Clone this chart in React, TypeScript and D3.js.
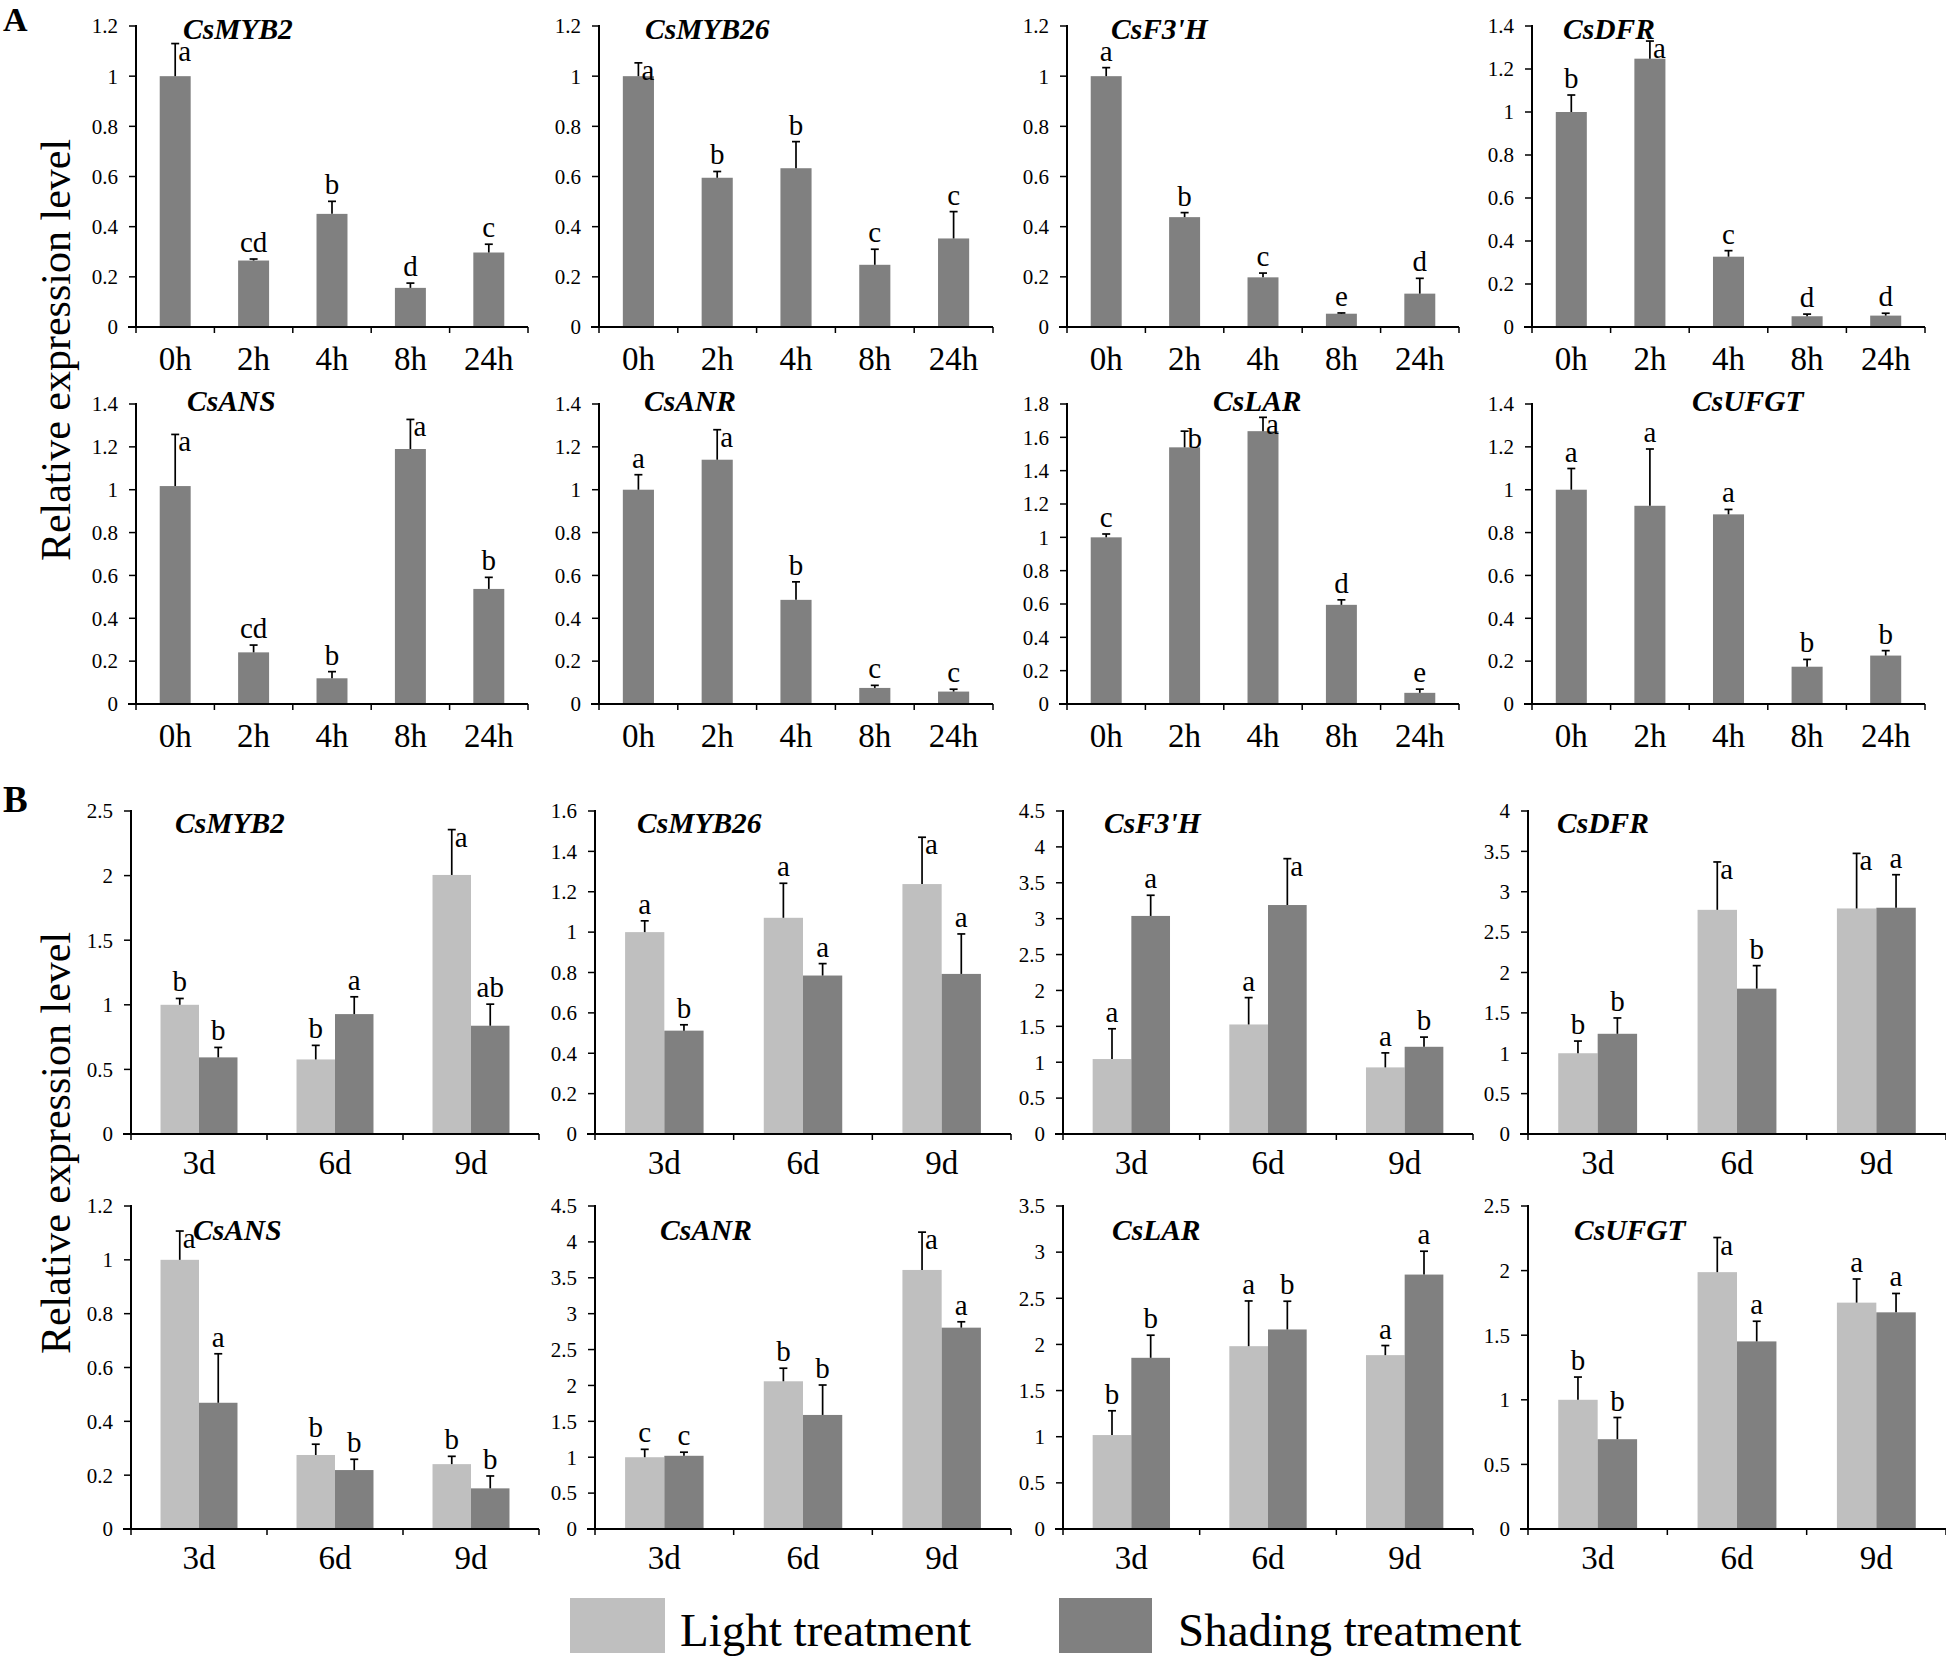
import React from "react";
import * as d3 from "d3";

// ---------- data ----------
const hoursA = ["0h", "2h", "4h", "8h", "24h"];
const daysB = ["3d", "6d", "9d"];
const genes = ["CsMYB2", "CsMYB26", "CsF3'H", "CsDFR", "CsANS", "CsANR", "CsLAR", "CsUFGT"];

// Panel A (time course, single series)
const yMaxA = [1.2, 1.2, 1.2, 1.4, 1.4, 1.4, 1.8, 1.4];
const yStepA = [0.2, 0.2, 0.2, 0.2, 0.2, 0.2, 0.2, 0.2];
const meanA = [
  [1.0, 0.265, 0.451, 0.156, 0.297],
  [1.0, 0.595, 0.633, 0.248, 0.353],
  [1.0, 0.438, 0.198, 0.053, 0.133],
  [1.0, 1.248, 0.327, 0.05, 0.053],
  [1.017, 0.241, 0.12, 1.19, 0.537],
  [1.0, 1.14, 0.486, 0.075, 0.058],
  [1.0, 1.54, 1.637, 0.595, 0.067],
  [1.0, 0.925, 0.885, 0.174, 0.226],
];
const errA = [
  [0.13, 0.006, 0.05, 0.019, 0.033],
  [0.053, 0.025, 0.106, 0.062, 0.107],
  [0.034, 0.018, 0.017, 0.003, 0.061],
  [0.079, 0.082, 0.028, 0.01, 0.011],
  [0.241, 0.034, 0.031, 0.138, 0.054],
  [0.07, 0.14, 0.084, 0.012, 0.011],
  [0.02, 0.097, 0.083, 0.03, 0.022],
  [0.099, 0.265, 0.023, 0.034, 0.023],
];
const lettersA = [
  ["a", "cd", "b", "d", "c"],
  ["a", "b", "b", "c", "c"],
  ["a", "b", "c", "e", "d"],
  ["b", "a", "c", "d", "d"],
  ["a", "cd", "b", "a", "b"],
  ["a", "a", "b", "c", "c"],
  ["c", "b", "a", "d", "e"],
  ["a", "a", "a", "b", "b"],
];
// letters printed beside (right of) their error bar instead of above it
const besideA = ["CsMYB2:0h", "CsMYB26:0h", "CsDFR:2h", "CsANS:0h", "CsANS:8h", "CsANR:2h", "CsLAR:2h", "CsLAR:4h"];

// Panel B (light vs shading)
const yMaxB = [2.5, 1.6, 4.5, 4, 1.2, 4.5, 3.5, 2.5];
const yStepB = [0.5, 0.2, 0.5, 0.5, 0.2, 0.5, 0.5, 0.5];
const lightMeanB = [
  [1.0, 0.577, 2.005],
  [1.0, 1.071, 1.238],
  [1.044, 1.526, 0.928],
  [1.0, 2.776, 2.793],
  [1.0, 0.275, 0.241],
  [1.0, 2.058, 3.609],
  [1.018, 1.981, 1.884],
  [1.0, 1.988, 1.752],
];
const lightErrB = [
  [0.049, 0.109, 0.351],
  [0.056, 0.171, 0.232],
  [0.422, 0.374, 0.202],
  [0.151, 0.593, 0.682],
  [0.107, 0.04, 0.029],
  [0.11, 0.182, 0.527],
  [0.263, 0.49, 0.104],
  [0.176, 0.268, 0.183],
];
const lightLettersB = [
  ["b", "b", "a"],
  ["a", "a", "a"],
  ["a", "a", "a"],
  ["b", "a", "a"],
  ["a", "b", "b"],
  ["c", "b", "a"],
  ["b", "a", "a"],
  ["b", "a", "a"],
];
const shadeMeanB = [
  [0.593, 0.928, 0.838],
  [0.512, 0.785, 0.793],
  [3.038, 3.19, 1.215],
  [1.241, 1.8, 2.802],
  [0.469, 0.219, 0.151],
  [1.02, 1.589, 2.805],
  [1.855, 2.162, 2.757],
  [0.695, 1.452, 1.677],
];
const shadeErrB = [
  [0.077, 0.134, 0.167],
  [0.029, 0.059, 0.198],
  [0.288, 0.646, 0.135],
  [0.196, 0.285, 0.409],
  [0.182, 0.04, 0.046],
  [0.05, 0.417, 0.082],
  [0.245, 0.306, 0.253],
  [0.168, 0.156, 0.146],
];
const shadeLettersB = [
  ["b", "a", "ab"],
  ["b", "a", "a"],
  ["a", "a", "b"],
  ["b", "b", "a"],
  ["a", "b", "b"],
  ["c", "b", "a"],
  ["b", "b", "a"],
  ["b", "a", "a"],
];
const besideB = [
  "CsMYB2:9d:light", "CsMYB26:9d:light", "CsF3'H:6d:shade", "CsDFR:6d:light",
  "CsDFR:9d:light", "CsANS:3d:light", "CsANR:9d:light", "CsUFGT:6d:light",
];
const seriesKeys = ["light", "shade"];
const legendLabels = ["Light treatment", "Shading treatment"];
const yTitle = "Relative expression level";

// ---------- styling / layout ----------
const FONT = '"Liberation Serif", "Times New Roman", Times, serif';
const LIGHT = "#bfbfbf";
const DARK = "#808080";

const colX = { A: [136, 599, 1067, 1532], B: [131, 595, 1063, 1528] };
const colW = { A: [392, 394, 392, 393], B: [408, 416, 410, 418] };
const rows = [
  { panel: "A", top: 26, zero: 327, titleY: 39, titleDx: [47, 46, 44, 31] },
  { panel: "A", top: 404, zero: 704, titleY: 411, titleDx: [51, 45, 146, 160] },
  { panel: "B", top: 811, zero: 1134, titleY: 833, titleDx: [44, 42, 41, 29] },
  { panel: "B", top: 1206, zero: 1529, titleY: 1240, titleDx: [62, 65, 49, 46] },
];

type Series = { key: string; color: string; values: number[]; errs: number[]; letters: string[] };

function Panel(props: {
  x0: number; w: number; top: number; zero: number; max: number; step: number;
  cats: string[]; series: Series[]; gene: string; titleX: number; titleY: number;
  beside: string[]; groupFrac: number; xLabelDy: number;
}) {
  const { x0, w, top, zero, max, step, cats, series, gene, titleX, titleY, beside, groupFrac, xLabelDy } = props;
  const y = d3.scaleLinear().domain([0, max]).range([zero, top]);
  const pad = 1 - groupFrac;
  const xb = d3.scaleBand<string>().domain(cats).range([x0, x0 + w]).paddingInner(pad).paddingOuter(pad / 2);
  const inner = d3.scaleBand<string>().domain(series.map((s) => s.key)).range([0, xb.bandwidth()]);
  const ticks = d3.range(0, max + step / 2, step).map((v) => +v.toFixed(2));
  const bounds = d3.range(cats.length + 1).map((i) => x0 + (i * w) / cats.length);
  const bars: any[] = [];
  const errs: any[] = [];
  const labels: any[] = [];
  series.forEach((s) => {
    cats.forEach((c, i) => {
      const bx = (xb(c) as number) + (inner(s.key) as number);
      const bw = inner.bandwidth();
      const cx = bx + bw / 2;
      const v = s.values[i];
      const topV = v + s.errs[i];
      bars.push(<rect key={`b${s.key}${c}`} x={bx} y={y(v)} width={bw} height={zero - y(v)} fill={s.color} />);
      errs.push(
        <g key={`e${s.key}${c}`} stroke="#000" strokeWidth={1.7}>
          <line x1={cx} x2={cx} y1={y(v)} y2={y(topV)} />
          <line x1={cx - 4} x2={cx + 4} y1={y(topV)} y2={y(topV)} />
        </g>
      );
      const id1 = `${gene}:${c}`;
      const id2 = `${gene}:${c}:${s.key}`;
      const isBeside = beside.includes(id1) || beside.includes(id2);
      labels.push(
        <text
          key={`l${s.key}${c}`}
          x={isBeside ? cx + 3 : cx}
          y={isBeside ? y(topV) + 17 : y(topV) - 7}
          textAnchor={isBeside ? "start" : "middle"}
          fontSize={29}
          fontFamily={FONT}
        >
          {s.letters[i]}
        </text>
      );
    });
  });
  return (
    <g>
      {bars}
      {errs}
      {labels}
      {/* y axis */}
      <line x1={x0} x2={x0} y1={top - 1} y2={zero} stroke="#000" strokeWidth={2} />
      {ticks.map((t) => (
        <g key={`t${t}`}>
          <line x1={x0 - 7} x2={x0} y1={y(t)} y2={y(t)} stroke="#000" strokeWidth={1.5} />
          <text x={x0 - 18} y={y(t)} dy="0.35em" textAnchor="end" fontSize={21} fontFamily={FONT}>
            {String(t)}
          </text>
        </g>
      ))}
      {/* x axis */}
      <line x1={x0 - 8} x2={x0 + w} y1={zero} y2={zero} stroke="#000" strokeWidth={2} />
      {bounds.map((bx, i) => (
        <line key={`xt${i}`} x1={bx} x2={bx} y1={zero} y2={zero + 6} stroke="#000" strokeWidth={1.5} />
      ))}
      {cats.map((c) => (
        <text key={`xl${c}`} x={(xb(c) as number) + xb.bandwidth() / 2} y={zero + xLabelDy} textAnchor="middle" fontSize={33} fontFamily={FONT}>
          {c}
        </text>
      ))}
      <text x={titleX} y={titleY} fontSize={29.5} fontWeight="bold" fontStyle="italic" fontFamily={FONT}>
        {gene}
      </text>
    </g>
  );
}

export default function App() {
  const panels: any[] = [];
  rows.forEach((row, r) => {
    for (let c = 0; c < 4; c++) {
      const gi = (r % 2) * 4 + c;
      const isA = row.panel === "A";
      const x0 = isA ? colX.A[c] : colX.B[c];
      const w = isA ? colW.A[c] : colW.B[c];
      const series: Series[] = isA
        ? [{ key: "single", color: DARK, values: meanA[gi], errs: errA[gi], letters: lettersA[gi] }]
        : [
            { key: seriesKeys[0], color: LIGHT, values: lightMeanB[gi], errs: lightErrB[gi], letters: lightLettersB[gi] },
            { key: seriesKeys[1], color: DARK, values: shadeMeanB[gi], errs: shadeErrB[gi], letters: shadeLettersB[gi] },
          ];
      panels.push(
        <Panel
          key={`p${r}${c}`}
          x0={x0}
          w={w}
          top={row.top}
          zero={row.zero}
          max={isA ? yMaxA[gi] : yMaxB[gi]}
          step={isA ? yStepA[gi] : yStepB[gi]}
          cats={isA ? hoursA : daysB}
          series={series}
          gene={genes[gi]}
          titleX={x0 + row.titleDx[c]}
          titleY={row.titleY}
          beside={isA ? besideA : besideB}
          groupFrac={isA ? 0.395 : 0.566}
          xLabelDy={isA ? 43 : 40}
        />
      );
    }
  });
  return (
    <svg
      width={1946}
      height={1659}
      viewBox="0 0 1946 1659"
      style={{ position: "absolute", left: 0, top: 0, background: "#fff" }}
    >
      <rect x={0} y={0} width={1946} height={1659} fill="#fff" />
      <text x={3} y={31} fontSize={34} fontWeight="bold" fontFamily={FONT}>A</text>
      <text x={3} y={812} fontSize={37} fontWeight="bold" fontFamily={FONT}>B</text>
      <text transform="translate(70,350) rotate(-90)" textAnchor="middle" fontSize={42} fontFamily={FONT}>{yTitle}</text>
      <text transform="translate(70,1143) rotate(-90)" textAnchor="middle" fontSize={42} fontFamily={FONT}>{yTitle}</text>
      {panels}
      {/* legend */}
      <rect x={570} y={1598} width={95} height={55} fill={LIGHT} />
      <text x={680} y={1646} fontSize={47} fontFamily={FONT}>{legendLabels[0]}</text>
      <rect x={1059} y={1598} width={93} height={55} fill={DARK} />
      <text x={1178} y={1646} fontSize={47} fontFamily={FONT}>{legendLabels[1]}</text>
    </svg>
  );
}
